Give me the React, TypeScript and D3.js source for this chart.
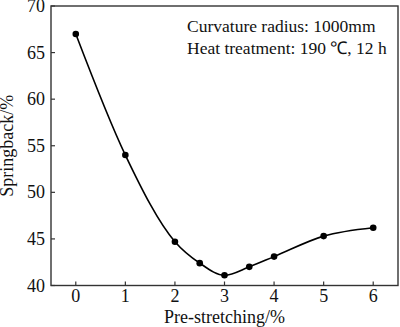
import React from "react";
import * as d3 from "d3";

const preStretch = [0, 1, 2, 2.5, 3, 3.5, 4, 5, 6];
const springback = [67.0, 54.0, 44.7, 42.4, 41.1, 42.0, 43.1, 45.3, 46.2];
const xTicks = [0, 1, 2, 3, 4, 5, 6];
const yTicks = [40, 45, 50, 55, 60, 65, 70];
const notes = ["Curvature radius: 1000mm", "Heat treatment: 190 \u2103, 12 h"];

const W = 400, H = 327;
const L = 51, R = 398, T = 6, B = 285.5;
const FONT = "'Liberation Serif', 'Times New Roman', serif";

export default function App() {
  const x = d3.scaleLinear().domain([-0.5, 6.5]).range([L, R]);
  const y = d3.scaleLinear().domain([40, 70]).range([B, T]);
  const pts: [number, number][] = preStretch.map((v, i) => [v, springback[i]]);
  const line = d3
    .line<[number, number]>()
    .x((d) => x(d[0]))
    .y((d) => y(d[1]))
    .curve(d3.curveMonotoneX);
  const axisColor = "#333";
  return (
    <svg
      width={W}
      height={H}
      style={{ position: "absolute", left: 0, top: 0, background: "#fff" }}
      fontFamily={FONT}
    >
      <rect x={0} y={0} width={W} height={H} fill="#fff" />
      <rect x={L} y={T} width={R - L} height={B - T} fill="none" stroke={axisColor} strokeWidth={1.4} />
      {xTicks.map((t) => (
        <g key={"x" + t}>
          <line x1={x(t)} x2={x(t)} y1={B} y2={B - 4} stroke={axisColor} strokeWidth={1.2} />
          <text x={x(t)} y={302} textAnchor="middle" fontSize={18} fill="#111">
            {t}
          </text>
        </g>
      ))}
      {yTicks.map((t) => (
        <g key={"y" + t}>
          <line x1={L} x2={L + 4} y1={y(t)} y2={y(t)} stroke={axisColor} strokeWidth={1.2} />
          <text x={45} y={y(t) + 6} textAnchor="end" fontSize={18} fill="#111">
            {t}
          </text>
        </g>
      ))}
      <text x={(L + R) / 2} y={323} textAnchor="middle" fontSize={18} fill="#111">
        Pre-stretching/%
      </text>
      <text
        transform={`translate(13, ${(T + B) / 2}) rotate(-90)`}
        textAnchor="middle"
        fontSize={18}
        fill="#111"
      >
        Springback/%
      </text>
      {notes.map((n, i) => (
        <text key={n} x={187} y={32 + i * 22} fontSize={17.5} fill="#111">
          {n}
        </text>
      ))}
      <path d={line(pts) || ""} fill="none" stroke="#000" strokeWidth={1.6} />
      {pts.map((p, i) => (
        <circle key={i} cx={x(p[0])} cy={y(p[1])} r={3.3} fill="#000" />
      ))}
    </svg>
  );
}
